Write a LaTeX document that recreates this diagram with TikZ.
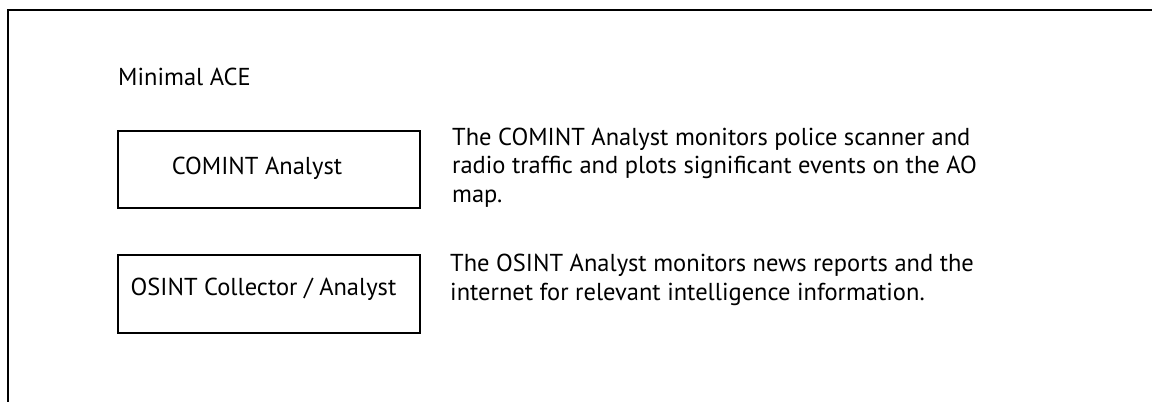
\documentclass[tikz,border=0pt]{standalone}
\usepackage{fontspec}
\setmainfont{PT Sans}
\begin{document}
\begin{tikzpicture}[x=1pt,y=-1pt,
  frameline/.style={line width=2pt,black},
  rolebox/.style={draw=black,line width=1.8pt,minimum width=302pt,minimum height=77pt,inner sep=0pt},
  rolelabel/.style={font=\fontsize{24.5}{29}\selectfont,inner sep=0pt,anchor=base},
  desc/.style={font=\fontsize{24.5}{28.5}\selectfont,align=left,inner sep=0pt,anchor=base west},
  title/.style={font=\fontsize{24.5}{29}\selectfont,inner sep=0pt,anchor=base west}]
  % page extent
  \useasboundingbox (0,0) rectangle (1152,402);
  % open frame: top and left edges
  \coordinate (ftr) at (1152,10);
  \coordinate (ftl) at (8,10);
  \coordinate (fbl) at (8,402);
  \draw[frameline] (ftr) -- (ftl) -- (fbl);
  % heading
  \node[title] (head) at (118,85) {Minimal ACE};
  % role boxes
  \node[rolebox,anchor=north west] (comint) at (117,130) {};
  \node[rolebox,anchor=north west,minimum height=78pt] (osint) at (117,254) {};
  \node[rolelabel] (comintlbl) at (257,174) {COMINT Analyst};
  \node[rolelabel] (osintlbl) at (263.5,295) {OSINT Collector / Analyst};
  % role descriptions (anchored on the baseline of their last line)
  \node[desc] (comintdesc) at (452,202) {The COMINT Analyst monitors police scanner and\\radio traffic and plots significant events on the AO\\map.};
  \node[desc] (osintdesc) at (450,300) {The OSINT Analyst monitors news reports and the\\internet for relevant intelligence information.};
\end{tikzpicture}
\end{document}
